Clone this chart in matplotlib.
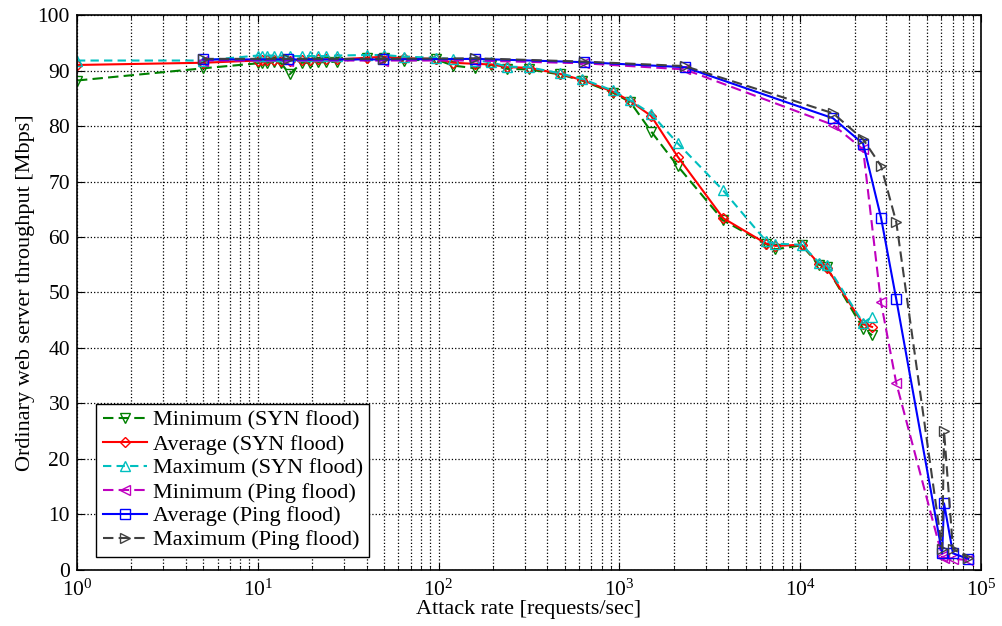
import numpy as np
import matplotlib
matplotlib.use("Agg")
from matplotlib import pyplot as plt

plt.rcParams["font.family"] = ["Liberation Serif", "DejaVu Serif"]
plt.rcParams["mathtext.fontset"] = "custom"
plt.rcParams["mathtext.rm"] = "Liberation Serif"
plt.rcParams["mathtext.it"] = "Liberation Serif:italic"

# SYN flood measurements
x_syn = [1, 5, 10, 10.5, 11.3, 12.3, 13.5, 15, 17.5, 19.5, 21.5, 24, 27.5,
         40, 50, 64, 97, 120, 160, 195, 240, 315, 470, 620, 920, 1150, 1500,
         2100, 3750, 6500, 7300, 10200, 12700, 14000, 22300, 25000]
syn_min = [88.2, 90.4, 91.3, 91.4, 91.4, 91.5, 91.3, 89.3, 91.4, 91.4, 91.5,
           91.5, 91.6, 92.3, 92.2, 91.8, 92.0, 90.9, 90.4, 91.0, 90.3, 90.2,
           89.3, 88.2, 86.0, 84.3, 79.0, 72.8, 63.0, 58.7, 57.8, 58.5, 55.0,
           54.6, 43.5, 42.3]
syn_avg = [91.0, 91.4, 91.8, 91.9, 91.9, 91.9, 91.8, 91.8, 91.9, 91.9, 92.0,
           92.0, 92.0, 92.3, 92.5, 92.2, 92.1, 91.4, 91.2, 91.1, 90.6, 90.5,
           89.4, 88.3, 86.2, 84.5, 81.8, 74.5, 63.4, 58.8, 58.4, 58.6, 55.2,
           54.5, 44.3, 43.8]
syn_max = [91.8, 91.8, 92.7, 92.7, 92.7, 92.7, 92.7, 92.6, 92.6, 92.6, 92.6,
           92.6, 92.7, 92.8, 92.8, 92.5, 92.3, 92.0, 91.8, 91.5, 90.7, 90.6,
           89.5, 88.5, 86.4, 84.6, 82.2, 76.9, 68.4, 59.2, 58.8, 58.6, 55.4,
           55.0, 44.5, 45.6]

# Ping flood measurements
x_ping = [5, 14.7, 49, 160, 640, 2300, 15200, 22300, 28000, 34000,
          61000, 62500, 70000, 85000]
ping_min = [91.8, 91.8, 91.8, 91.8, 91.3, 90.2, 80.2, 75.8, 48.2, 33.7,
            2.5, 2.2, 2.0, 1.8]
ping_avg = [92.0, 92.0, 92.0, 92.1, 91.5, 90.6, 81.4, 76.8, 63.5, 48.8,
            3.0, 12.0, 3.0, 2.0]
ping_max = [92.1, 92.1, 92.1, 92.2, 91.6, 90.8, 82.3, 77.6, 72.8, 62.7,
            3.8, 25.0, 3.8, 2.2]

fig = plt.figure(figsize=(10.02, 6.26), dpi=100)
ax = fig.add_axes([0.0768, 0.0895, 0.9022, 0.8865])

green = "#008000"
cyan = "#00bfbf"
magenta = "#bf00bf"
dark = "#404040"
ms = 7.5
lw = 1.5

ax.plot(x_syn, syn_min, "--v", color=green, mfc="none", ms=ms, lw=lw,
        dashes=(5, 2.5), label="Minimum (SYN flood)")
ax.plot(x_syn, syn_avg, "-D", color="red", mfc="none", ms=ms - 2, lw=lw,
        label="Average (SYN flood)")
ax.plot(x_syn, syn_max, "--^", color=cyan, mfc="none", ms=ms, lw=lw,
        dashes=(4, 2.5), label="Maximum (SYN flood)")
ax.plot(x_ping, ping_min, "--<", color=magenta, mfc="none", ms=ms, lw=lw,
        dashes=(5, 2.5), label="Minimum (Ping flood)")
ax.plot(x_ping, ping_avg, "-s", color="blue", mfc="none", ms=ms, lw=lw,
        label="Average (Ping flood)")
ax.plot(x_ping, ping_max, "-->", color=dark, mfc="none", ms=ms, lw=lw,
        dashes=(5, 2.5), label="Maximum (Ping flood)")

ax.set_xscale("log")
ax.set_xlim(1, 1e5)
ax.set_ylim(0, 100)
ax.set_yticks(np.arange(0, 101, 10))
ax.grid(True, which="major", linestyle=":", color="black", lw=0.9)
ax.grid(True, which="minor", axis="x", linestyle=":", color="black", lw=0.9)
ax.tick_params(which="both", direction="in", top=True, right=True,
               labelsize=15.5, pad=5)
ax.tick_params(axis="x", which="major", pad=7)
ax.tick_params(which="minor", length=3)
ax.tick_params(which="major", length=5)
for s in ax.spines.values():
    s.set_linewidth(1.2)

ax.set_xlabel("Attack rate [requests/sec]", fontsize=16, labelpad=-1)
ax.set_ylabel("Ordinary web server throughput [Mbps]", fontsize=16,
              labelpad=2)

leg = ax.legend(loc="lower left", bbox_to_anchor=(19 / 904, 13 / 555),
                borderaxespad=0, fontsize=16, fancybox=False,
                edgecolor="black", framealpha=1, handlelength=2.0,
                labelspacing=0.15, borderpad=0.3, handletextpad=0.25)
leg.get_frame().set_linewidth(1.0)

fig.savefig("out.png", dpi=100)
